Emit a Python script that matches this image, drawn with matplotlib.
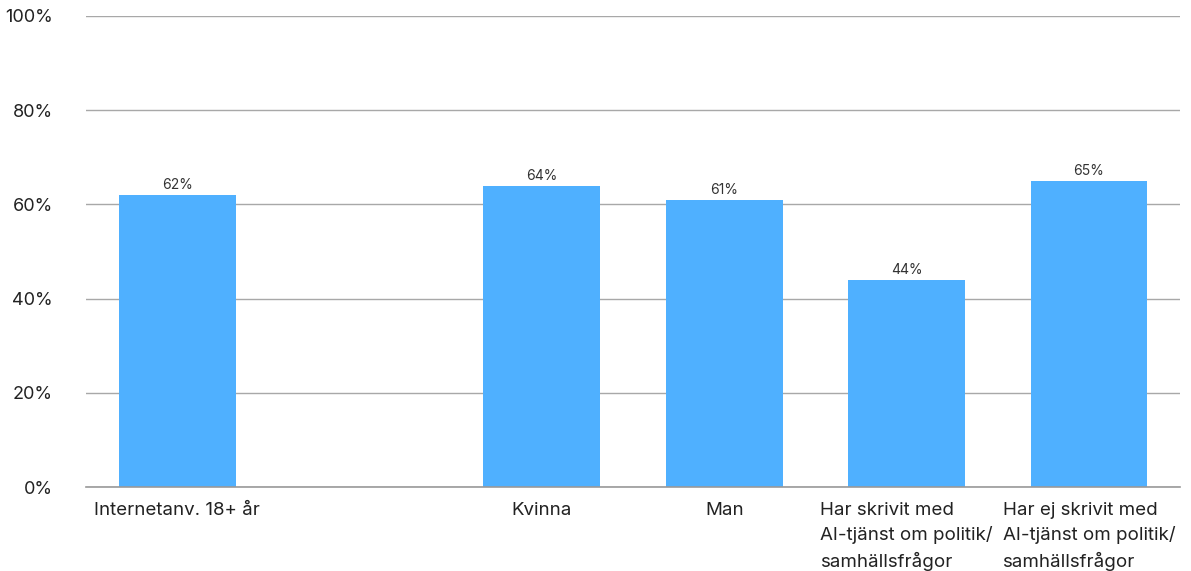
import matplotlib.pyplot as plt
import numpy as np

plt.rcParams['font.family'] = ['Inter', 'DejaVu Sans']

categories = ['Internetanv. 18+ år', '', 'Kvinna', 'Man',
              'Har skrivit med\nAI-tjänst om politik/\nsamhällsfrågor',
              'Har ej skrivit med\nAI-tjänst om politik/\nsamhällsfrågor']
values = [62, np.nan, 64, 61, 44, 65]
yticks = [0, 20, 40, 60, 80, 100]

fig = plt.figure(figsize=(11.91, 5.71), dpi=100)
ax = fig.add_axes([0.0722, 0.1471, 0.9186, 0.8249])

x = np.arange(len(categories))
ax.bar(x, values, width=0.64, color='#4fb0ff', zorder=3)

for xi, v in zip(x, values):
    if not np.isnan(v):
        ax.text(xi, v + 0.6, f'{v:.0f}%', ha='center', va='bottom', fontsize=10, color='#333333')

ax.set_xlim(-0.5, len(categories) - 0.5)
ax.set_ylim(0, 100)
ax.set_yticks(yticks)
ax.set_yticklabels([f'{t}%' for t in yticks])
ax.set_xticks(x)
ax.set_xticklabels(categories, multialignment='left', linespacing=1.5)
ax.tick_params(axis='x', length=0, pad=11, labelsize=13.5, labelcolor='#222222')
ax.tick_params(axis='y', length=0, pad=24, labelsize=13, labelcolor='#222222')

ax.grid(axis='y', color='#a8a8a8', linewidth=1, zorder=0)
ax.axhline(0, color='#999999', linewidth=1.2, zorder=4, clip_on=False)
for s in ax.spines.values():
    s.set_visible(False)

fig.savefig('out.png', dpi=100)
